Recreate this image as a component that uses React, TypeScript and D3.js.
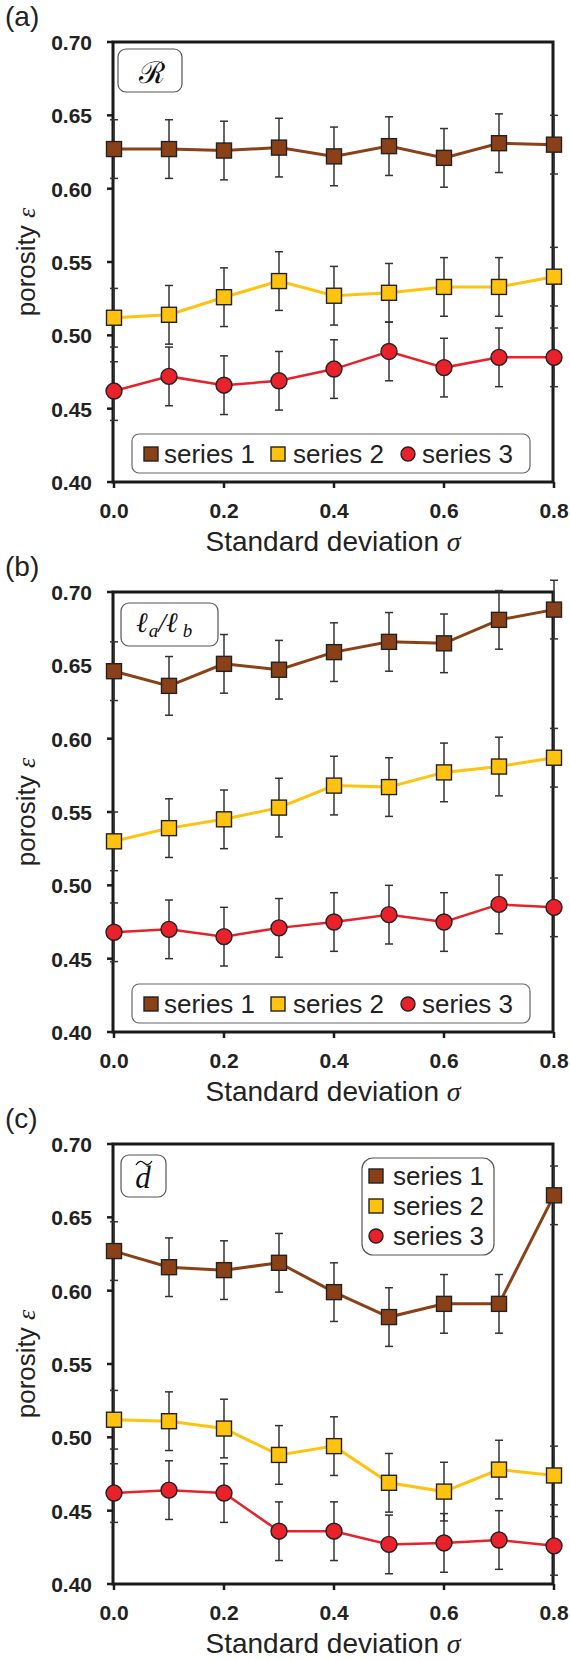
import React from 'react';
import { line, scaleLinear } from 'd3';

const sigma = [0, 0.1, 0.2, 0.3, 0.4, 0.5, 0.6, 0.7, 0.8];
const yTicks = [0.4, 0.45, 0.5, 0.55, 0.6, 0.65, 0.7];
const xTicks = [0, 0.2, 0.4, 0.6, 0.8];
const seriesNames = ['series 1', 'series 2', 'series 3'];
const seriesColors = ['#8b4117', '#ffc20e', '#e8212b'];
const panelLabels = ['(a)', '(b)', '(c)'];

// panel (a): R
const rS1 = [0.627, 0.627, 0.626, 0.628, 0.622, 0.629, 0.621, 0.631, 0.630];
const rS2 = [0.512, 0.514, 0.526, 0.537, 0.527, 0.529, 0.533, 0.533, 0.540];
const rS3 = [0.462, 0.472, 0.466, 0.469, 0.477, 0.489, 0.478, 0.485, 0.485];
// panel (b): la/lb
const lS1 = [0.646, 0.636, 0.651, 0.647, 0.659, 0.666, 0.665, 0.681, 0.688];
const lS2 = [0.530, 0.539, 0.545, 0.553, 0.568, 0.567, 0.577, 0.581, 0.587];
const lS3 = [0.468, 0.470, 0.465, 0.471, 0.475, 0.480, 0.475, 0.487, 0.485];
// panel (c): d tilde
const dS1 = [0.627, 0.616, 0.614, 0.619, 0.599, 0.582, 0.591, 0.591, 0.665];
const dS2 = [0.512, 0.511, 0.506, 0.488, 0.494, 0.469, 0.463, 0.478, 0.474];
const dS3 = [0.462, 0.464, 0.462, 0.436, 0.436, 0.427, 0.428, 0.430, 0.426];
const errBar = 0.02;

const FONT = "'Liberation Sans', Arial, sans-serif";
const SERIF = "'Liberation Serif', 'Times New Roman', serif";
const left = 113;
const right = 553;
const plotH = 440;
const panelTops = [42, 592, 1144];

const Marker = ({ i, cx, cy, size }) => {
  if (i === 2) {
    return <circle cx={cx} cy={cy} r={size / 2} fill={seriesColors[i]} stroke="#222" strokeWidth={1.4} />;
  }
  return (
    <rect x={cx - size / 2} y={cy - size / 2} width={size} height={size}
      fill={seriesColors[i]} stroke="#222" strokeWidth={1.4} />
  );
};

const Tag = ({ idx, top }) => {
  if (idx === 0) {
    return (
      <g>
        <rect x={118} y={top + 7} width={64} height={43} rx={8} fill="#fff" stroke="#555" strokeWidth={1.2} />
        <text x={152} y={top + 41} fontFamily="'DejaVu Serif', serif" fontSize={30} textAnchor="middle" fill="#111">ℛ</text>
      </g>
    );
  }
  if (idx === 1) {
    return (
      <g>
        <rect x={121} y={top + 11} width={97} height={43} rx={8} fill="#fff" stroke="#555" strokeWidth={1.2} />
        <text x={136} y={top + 40} fontFamily={SERIF} fontStyle="italic" fontSize={28} fill="#111">
          ℓ<tspan fontSize={19} dx={1} dy={5}>a</tspan>
          <tspan dy={-5}>/ℓ</tspan>
          <tspan fontSize={19} dx={5} dy={5}>b</tspan>
        </text>
      </g>
    );
  }
  // tilde over d drawn as a small curve
  const tx = 144;
  const ty = top + 18;
  return (
    <g>
      <rect x={121} y={top + 11} width={45} height={42} rx={8} fill="#fff" stroke="#555" strokeWidth={1.2} />
      <text x={143} y={top + 44} fontFamily={SERIF} fontStyle="italic" fontSize={31} textAnchor="middle" fill="#111">d</text>
      <path d={`M${tx - 8},${ty + 3} C${tx - 5},${ty - 2} ${tx - 2},${ty - 1} ${tx},${ty + 1} S${tx + 5},${ty + 4} ${tx + 8},${ty - 1}`}
        fill="none" stroke="#111" strokeWidth={1.3} />
    </g>
  );
};

const Legend = ({ idx, top, bottom }) => {
  if (idx < 2) {
    const markX = [151, 278, 408];
    const textX = [164, 293, 422];
    return (
      <g>
        <rect x={132} y={bottom - 48} width={398} height={39} rx={7} fill="#fff" stroke="#666" strokeWidth={1.2} />
        {seriesNames.map((s, i) => (
          <g key={s}>
            <Marker i={i} cx={markX[i]} cy={bottom - 28} size={14} />
            <text x={textX[i]} y={bottom - 19} fontFamily={FONT} fontSize={26} fill="#222">{s}</text>
          </g>
        ))}
      </g>
    );
  }
  return (
    <g>
      <rect x={362} y={top + 14} width={132} height={97} rx={11} fill="#fff" stroke="#555" strokeWidth={1.2} />
      {seriesNames.map((s, i) => (
        <g key={s}>
          <Marker i={i} cx={376} cy={top + 32 + i * 30} size={14} />
          <text x={393} y={top + 41 + i * 30} fontFamily={FONT} fontSize={26} fill="#222">{s}</text>
        </g>
      ))}
    </g>
  );
};

const Panel = ({ idx, data }) => {
  const top = panelTops[idx];
  const x = scaleLinear().domain([0, 0.8]).range([left + 1, right + 1]);
  const y = scaleLinear().domain([0.4, 0.7]).range([top + plotH, top]);
  const bottom = y(0.4);
  const path = line<number>().x((_, i) => x(sigma[i])).y((d) => y(d));

  return (
    <g>
      <text x={5} y={top - 16} fontFamily={FONT} fontSize={28} fill="#222">{panelLabels[idx]}</text>

      {/* frame */}
      <rect x={left} y={top} width={right - left} height={plotH} fill="none" stroke="#1a1a1a" strokeWidth={3} />

      {yTicks.map((t) => (
        <g key={t}>
          <line x1={left - 6} x2={left} y1={y(t)} y2={y(t)} stroke="#1a1a1a" strokeWidth={2.5} />
          <text x={92} y={y(t) + 8} textAnchor="end" fontFamily={FONT} fontWeight="bold" fontSize={21} fill="#222">
            {t.toFixed(2)}
          </text>
        </g>
      ))}
      {xTicks.map((t) => (
        <g key={t}>
          <line x1={x(t)} x2={x(t)} y1={bottom} y2={bottom + 6} stroke="#1a1a1a" strokeWidth={2.5} />
          <text x={x(t)} y={bottom + 36} textAnchor="middle" fontFamily={FONT} fontWeight="bold" fontSize={21} fill="#222">
            {t.toFixed(1)}
          </text>
        </g>
      ))}

      <text x={(left + right) / 2} y={bottom + 69} textAnchor="middle" fontFamily={FONT} fontSize={28} fill="#222">
        Standard deviation <tspan fontFamily={SERIF} fontStyle="italic">σ</tspan>
      </text>
      <text transform={`translate(35,${top + plotH / 2}) rotate(-90)`} textAnchor="middle" fontFamily={FONT} fontSize={26} fill="#222">
        porosity <tspan fontFamily={SERIF} fontStyle="italic">ε</tspan>
      </text>

      <Tag idx={idx} top={top} />

      {data.map((vals, si) => (
        <g key={si}>
          {vals.map((v, i) => (
            <g key={i} stroke="#333" strokeWidth={1.5}>
              <line x1={x(sigma[i])} x2={x(sigma[i])} y1={y(v + errBar)} y2={y(v - errBar)} />
              <line x1={x(sigma[i]) - 4} x2={x(sigma[i]) + 4} y1={y(v + errBar)} y2={y(v + errBar)} />
              <line x1={x(sigma[i]) - 4} x2={x(sigma[i]) + 4} y1={y(v - errBar)} y2={y(v - errBar)} />
            </g>
          ))}
          <path d={path(vals) || ''} fill="none" stroke={seriesColors[si]} strokeWidth={si === 2 ? 2.5 : 3} />
          {vals.map((v, i) => (
            <Marker key={i} i={si} cx={x(sigma[i])} cy={y(v)} size={si === 2 ? 16 : 15} />
          ))}
        </g>
      ))}

      <Legend idx={idx} top={top} bottom={bottom} />
    </g>
  );
};

export default function App() {
  const panels = [
    [rS1, rS2, rS3],
    [lS1, lS2, lS3],
    [dS1, dS2, dS3],
  ];
  return (
    <svg width={570} height={1660} viewBox="0 0 570 1660"
      style={{ position: 'absolute', left: 0, top: 0, display: 'block', background: '#fff' }}>
      {panels.map((d, i) => (
        <Panel key={i} idx={i} data={d} />
      ))}
    </svg>
  );
}
